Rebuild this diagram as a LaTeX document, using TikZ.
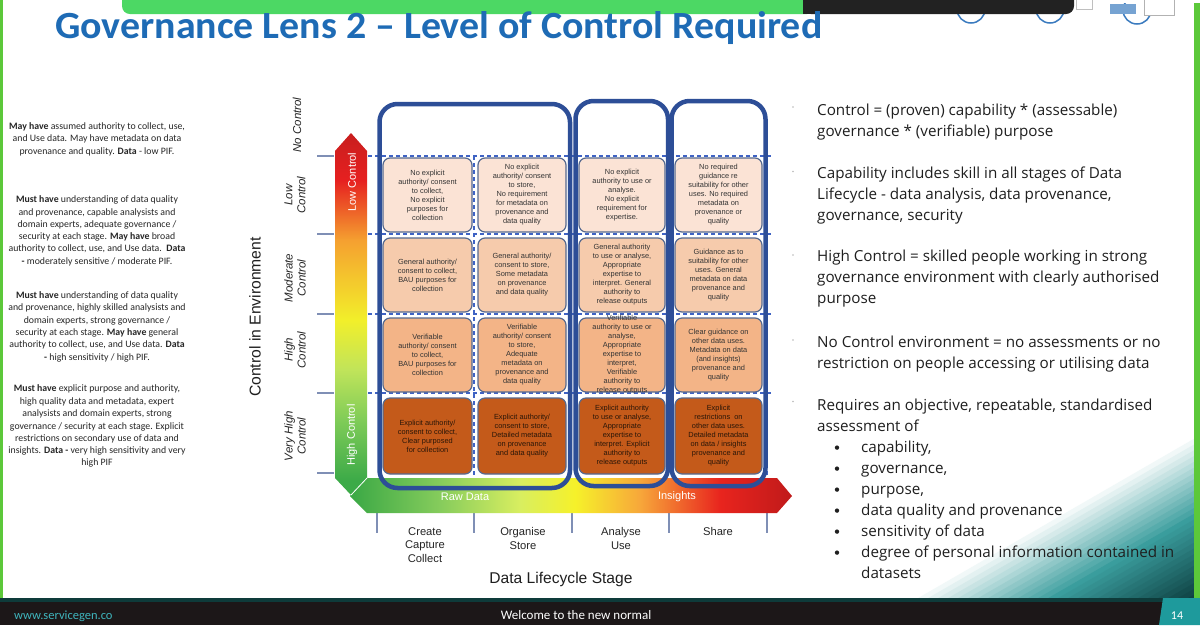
\documentclass[tikz,border=0pt]{standalone}
\usepackage{fontspec}
\setmainfont{Liberation Sans}
\newfontfamily\carlito{Carlito}
\newfontfamily\opensans{Open Sans}
\newfontfamily\arial{Liberation Sans}
\usetikzlibrary{calc}
\definecolor{titleblue}{HTML}{1E6BB5}
\definecolor{boxblue}{HTML}{2D4E97}
\definecolor{dashblue}{HTML}{3F63C4}
\definecolor{cellborder}{HTML}{56698F}
\definecolor{rowA}{HTML}{FBE3D5}
\definecolor{rowB}{HTML}{F6CBAC}
\definecolor{rowC}{HTML}{F3B487}
\definecolor{rowD}{HTML}{C45A1A}
\definecolor{celltxt}{HTML}{333333}
\definecolor{celltxtD}{HTML}{2A1608}
\definecolor{ticks}{HTML}{7F8FB5}
\definecolor{sgreen}{HTML}{4CD864}
\definecolor{bordergreen}{HTML}{5CC83A}
\definecolor{barblack}{HTML}{222222}
\definecolor{botdark}{HTML}{1C1718}
\definecolor{tealline}{HTML}{0E3B3A}
\definecolor{tealpanel}{HTML}{1E9A9C}
\definecolor{tealmid}{HTML}{3A9D9D}
\definecolor{tealdark}{HTML}{0B3A3C}
\definecolor{urlteal}{HTML}{3FB5BD}
\definecolor{iconblue}{HTML}{3B7BBF}
% vertical arrow colours
\definecolor{vgA}{HTML}{3CAA48}
\definecolor{vgB}{HTML}{80CC58}
\definecolor{vgC}{HTML}{C0E45A}
\definecolor{vgY}{HTML}{F2EF2A}
\definecolor{vgO}{HTML}{F5A030}
\definecolor{vgR}{HTML}{E62020}
\definecolor{vgD}{HTML}{C81E1E}
% horizontal arrow colours
\definecolor{hgA}{HTML}{3AA845}
\definecolor{hgB}{HTML}{86CC5C}
\definecolor{hgC}{HTML}{D8EE60}
\definecolor{hgY}{HTML}{F6F12A}
\definecolor{hgO}{HTML}{F7A73A}
\definecolor{hgR}{HTML}{E8241E}
\definecolor{hgD}{HTML}{C01A1A}
\pgfdeclareverticalshading{vgrad}{100bp}{color(0bp)=(vgA); color(27bp)=(vgA); color(35.4bp)=(vgB); color(42.3bp)=(vgC); color(49.2bp)=(vgY); color(60.2bp)=(vgO); color(68.5bp)=(vgR); color(75bp)=(vgD); color(100bp)=(vgD)}
\pgfdeclarehorizontalshading{hgrad}{100bp}{color(0bp)=(hgA); color(25bp)=(hgA); color(35.2bp)=(hgB); color(44.2bp)=(hgC); color(50.5bp)=(hgY); color(57.8bp)=(hgO); color(66.9bp)=(hgR); color(75bp)=(hgD); color(100bp)=(hgD)}
\newcommand{\mycell}[7]{%
  \node[cellbox, fill=#6, minimum width=#4, minimum height=#5] (#1) at (#2,#3) {};
  \node[celltext] (#1t) at (#1) {#7};}
\begin{document}
\begin{tikzpicture}[x=1pt,y=-1pt,
  cellbox/.style={draw=cellborder, line width=1.2pt, rounded corners=7pt, inner sep=0pt},
  celltext/.style={align=center, inner sep=0pt, font=\arial\fontsize{7.4}{9}\selectfont, text=celltxt},
  bigbox/.style={draw=boxblue, line width=4.5pt, rounded corners=18pt},
  gridline/.style={draw=dashblue, line width=1.1pt, dash pattern=on 4pt off 3pt},
  tickline/.style={draw=ticks, line width=1.2pt},
  rowlab/.style={rotate=90, align=center, inner sep=0pt, font=\arial\itshape\fontsize{11.5}{13}\selectfont, text=black!85},
  arrowlab/.style={inner sep=0pt, text=white, font=\arial\fontsize{11}{13}\selectfont},
  collab/.style={align=center, anchor=north, inner sep=0pt, font=\arial\fontsize{11.2}{13.3}\selectfont, text=black!85},
  lefttxt/.style={anchor=base, inner sep=0pt, font=\carlito\fontsize{9.8}{12}\selectfont, text=black!85},
  righttxt/.style={anchor=base west, inner sep=0pt, font=\opensans\fontsize{15.2}{21}\selectfont, text=black!88}
]
\useasboundingbox (0,0) rectangle (1200,625);
\fill[white] (0,0) rectangle (1200,625);

% teal corner gradient
\begin{scope}
\clip (780,380) rectangle (1194,600);
\foreach \i in {0,...,29}{
  \pgfmathsetmacro{\tA}{972+\i*5}
  \pgfmathsetmacro{\tB}{\tA+(\i==29 ? 120 : 6)}
  \pgfmathtruncatemacro{\pa}{min(100,\i*100/14)}
  \pgfmathtruncatemacro{\pb}{max(0,(\i-14)*100/15)}
  \fill[tealdark!\pb!tealmid!\pa!white]
    ($\tA*(0.5,0.866)+200*(-0.866,0.5)$) -- ($\tA*(0.5,0.866)-1100*(-0.866,0.5)$) --
    ($\tB*(0.5,0.866)-1100*(-0.866,0.5)$) -- ($\tB*(0.5,0.866)+200*(-0.866,0.5)$) -- cycle;
}
\end{scope}

% green borders
\fill[bordergreen] (0,0) rectangle (3,600);
\fill[bordergreen] (1194,0) rectangle (1200,600);

% top icons
\draw[iconblue, line width=1.5pt] (971,9) circle (14);
\draw[iconblue, line width=1.5pt] (1050,9) circle (14);
\draw[iconblue, line width=1.5pt] (1137,10) circle (14);
\fill[white] (1075,-2) rectangle (1200,3);
\draw[gray!50, fill=white] (1076,-2) rectangle (1092,9);
\fill[iconblue!70] (1110,4) rectangle (1136,14);
\draw[gray!60, fill=white] (1144,-2) rectangle (1174,15);

% top bar
\fill[sgreen, rounded corners=8pt] (122,-12) rectangle (815,14);
\fill[barblack, rounded corners=8pt] (803,-12) rectangle (1074,14);
\fill[barblack] (803,-12) rectangle (820,14);

% title
\node[anchor=base west, inner sep=0pt, text=titleblue] (title) at (55,38)
  {\resizebox{767pt}{27pt}{\carlito\bfseries Governance Lens 2 – Level of Control Required}};

% left text column
\node[lefttxt] (p1a) at (97,129.3) {\textbf{May have} assumed authority to collect, use,};
\node[lefttxt] (p1b) at (97,141.7) {and Use data. May have metadata on data};
\node[lefttxt] (p1c) at (97,154) {provenance and quality. \textbf{Data} - low PIF.};
\node[lefttxt] (p2a) at (97,202.7) {\textbf{Must have} understanding of data quality};
\node[lefttxt] (p2b) at (97,215) {and provenance, capable analysists and};
\node[lefttxt] (p2c) at (97,227.3) {domain experts, adequate governance /};
\node[lefttxt] (p2d) at (97,239.3) {security at each stage. \textbf{May have} broad};
\node[lefttxt] (p2e) at (97,251.7) {authority to collect, use, and Use data.\ \ \textbf{Data}};
\node[lefttxt] (p2f) at (97,264) {\textbf{-} moderately sensitive / moderate PIF.};
\node[lefttxt] (p3a) at (97,298.3) {\textbf{Must have} understanding of data quality};
\node[lefttxt] (p3b) at (97,310.7) {and provenance, highly skilled analysists and};
\node[lefttxt] (p3c) at (97,323.3) {domain experts, strong governance /};
\node[lefttxt] (p3d) at (97,335.7) {security at each stage. \textbf{May have} general};
\node[lefttxt] (p3e) at (97,347.7) {authority to collect, use, and Use data. \textbf{Data}};
\node[lefttxt] (p3f) at (97,360) {\textbf{-} high sensitivity / high PIF.};
\node[lefttxt] (p4a) at (97,391.7) {\textbf{Must have} explicit purpose and authority,};
\node[lefttxt] (p4b) at (97,404) {high quality data and metadata, expert};
\node[lefttxt] (p4c) at (97,416.7) {analysists and domain experts, strong};
\node[lefttxt] (p4d) at (97,429) {governance / security at each stage. Explicit};
\node[lefttxt] (p4e) at (97,441) {restrictions on secondary use of data and};
\node[lefttxt] (p4f) at (97,453.3) {insights. \textbf{Data -} very high sensitivity and very};
\node[lefttxt] (p4g) at (97,465.7) {high PIF};

% axis labels
\node[rotate=90, inner sep=0pt, font=\arial\fontsize{15.7}{18}\selectfont, text=black!88] (yaxis) at (255,317) {Control in Environment};
\node[inner sep=0pt, font=\arial\fontsize{15.6}{18}\selectfont, text=black!88] (xaxis) at (561,579) {Data Lifecycle Stage};

% row labels
\node[rowlab] (rl0) at (297,125) {No Control};
\node[rowlab] (rl1) at (295,195) {Low\\Control};
\node[rowlab] (rl2) at (295,278) {Moderate\\Control};
\node[rowlab] (rl3) at (295,350) {High\\Control};
\node[rowlab] (rl4) at (295,436) {Very High\\Control};

% tick marks
\foreach \yy in {156,234,314,393,473} \draw[tickline] (317,\yy) -- (334,\yy);
\foreach \xx in {377,474,572,669,767} \draw[tickline] (\xx,513) -- (\xx,533);

% dashed grid
\foreach \yy in {156,234,314,393} \draw[gridline] (368,\yy) -- (771,\yy);
\foreach \xx in {474,767} \draw[gridline] (\xx,156) -- (\xx,478);

% arrows
\shade[shading=hgrad] (350,496) -- (367,478) -- (777,478) -- (792,496) -- (777,513) -- (367,513) -- cycle;
\shade[shading=vgrad] (335,151) -- (351,133) -- (367,151) -- (367,478) -- (351,495) -- (335,478) -- cycle;
\draw[white, line width=0.8pt] (351,495) -- (367,478);
\node[arrowlab, rotate=90] (lowc) at (352,182) {Low Control};
\node[arrowlab, rotate=90] (highc) at (352,435) {High Control};
\node[arrowlab] (raw) at (465,497) {Raw Data};
\node[arrowlab] (ins) at (677,497) {Insights};

% cells
\mycell{c11}{427.5}{195}{89pt}{74pt}{rowA}{No explicit\\authority/ consent\\to collect,\\No explicit\\purposes for\\collection}
\mycell{c12}{522}{195}{88pt}{74pt}{rowA}{No explicit\\authority/ consent\\to store,\\No requirement\\for metadata on\\provenance and\\data quality}
\mycell{c13}{622}{195}{86pt}{74pt}{rowA}{No explicit\\authority to use or\\analyse.\\No explicit\\requirement for\\expertise.}
\mycell{c14}{718.5}{195}{87pt}{74pt}{rowA}{No required\\guidance re\\suitability for other\\uses. No required\\metadata on\\provenance or\\quality}
\mycell{c21}{427.5}{275}{89pt}{74pt}{rowB}{General authority/\\consent to collect,\\BAU purposes for\\collection}
\mycell{c22}{522}{275}{88pt}{74pt}{rowB}{General authority/\\consent to store,\\Some metadata\\on provenance\\and data quality}
\mycell{c23}{622}{275}{86pt}{74pt}{rowB}{General authority\\to use or analyse,\\Appropriate\\expertise to\\interpret. General\\authority to\\release outputs}
\mycell{c24}{718.5}{275}{87pt}{74pt}{rowB}{Guidance as to\\suitability for other\\uses. General\\metadata on data\\provenance and\\quality}
\mycell{c31}{427.5}{355}{89pt}{74pt}{rowC}{Verifiable\\authority/ consent\\to collect,\\BAU purposes for\\collection}
\mycell{c32}{522}{355}{88pt}{74pt}{rowC}{Verifiable\\authority/ consent\\to store,\\Adequate\\metadata on\\provenance and\\data quality}
\mycell{c33}{622}{355}{86pt}{74pt}{rowC}{Verifiable\\authority to use or\\analyse,\\Appropriate\\expertise to\\interpret,\\Verifiable\\authority to\\release outputs}
\mycell{c34}{718.5}{355}{87pt}{74pt}{rowC}{Clear guidance on\\other data uses.\\Metadata on data\\(and insights)\\provenance and\\quality}
\begin{scope}[celltext/.append style={text=celltxtD}]
\mycell{c41}{427.5}{436}{89pt}{76pt}{rowD}{Explicit authority/\\consent to collect,\\Clear purposed\\for collection}
\mycell{c42}{522}{436}{88pt}{76pt}{rowD}{Explicit authority/\\consent to store,\\Detailed metadata\\on provenance\\and data quality}
\mycell{c43}{622}{436}{86pt}{76pt}{rowD}{Explicit authority\\to use or analyse,\\Appropriate\\expertise to\\interpret. Explicit\\authority to\\release outputs}
\mycell{c44}{718.5}{436}{87pt}{76pt}{rowD}{Explicit\\restrictions\ \ on\\other data uses.\\Detailed metadata\\on data / insights\\provenance and\\quality}
\end{scope}

% big boxes
\draw[bigbox] (379.5,104) rectangle (570,488);
\draw[bigbox] (575.5,101) rectangle (668,486);
\draw[bigbox] (671.5,101) rectangle (765.5,486);

% column labels
\node[collab] (s1) at (425,527.5) {Create\\Capture\\Collect};
\node[collab] (s2) at (523,527.5) {Organise\\Store};
\node[collab] (s3) at (621,527.5) {Analyse\\Use};
\node[collab] (s4) at (718,527.5) {Share};

% right text
\foreach \yy in {107,171.5,255,340,401.5} \fill[gray!55] (793,\yy) circle (0.8);
\node[righttxt] (r1) at (817,115) {Control = (proven) capability * (assessable)};
\node[righttxt] (r2) at (817,136) {governance * (verifiable) purpose};
\node[righttxt] (r3) at (817,178) {Capability includes skill in all stages of Data};
\node[righttxt] (r4) at (817,199) {Lifecycle - data analysis, data provenance,};
\node[righttxt] (r5) at (817,220) {governance, security};
\node[righttxt] (r6) at (817,261.5) {High Control = skilled people working in strong};
\node[righttxt] (r7) at (817,282.5) {governance environment with clearly authorised};
\node[righttxt] (r8) at (817,303.5) {purpose};
\node[righttxt] (r9) at (817,347) {No Control environment = no assessments or no};
\node[righttxt] (r10) at (817,368) {restriction on people accessing or utilising data};
\node[righttxt] (r11) at (817,410) {Requires an objective, repeatable, standardised};
\node[righttxt] (r12) at (817,431) {assessment of};
\foreach \yy/\tx [count=\k] in {452/{capability,},473/{governance,},494/{purpose,},515/{data quality and provenance},536/{sensitivity of data},557/{degree of personal information contained in}}{
  \fill[black!88] (837,\yy-4.4) circle (2.2);
  \node[righttxt] (bl\k) at (861,\yy) {\tx};
}
\node[righttxt] (bl7) at (861,578) {datasets};

% bottom bar
\fill[botdark] (0,601) rectangle (1200,625);
\fill[tealline] (0,598) rectangle (1200,601.5);
\fill[tealpanel] (1163,598) -- (1200,598) -- (1200,625) -- (1159,625) -- cycle;
\node[anchor=base west, inner sep=0pt, text=urlteal, font=\carlito\fontsize{12.5}{14}\selectfont] (url) at (14,619) {www.servicegen.co};
\node[anchor=base, inner sep=0pt, text=white, font=\carlito\fontsize{13}{14}\selectfont] (motto) at (576,619) {Welcome to the new normal};
\node[anchor=base, inner sep=0pt, text=white, font=\carlito\fontsize{12}{14}\selectfont] (pg) at (1177,619) {14};
\end{tikzpicture}
\end{document}
